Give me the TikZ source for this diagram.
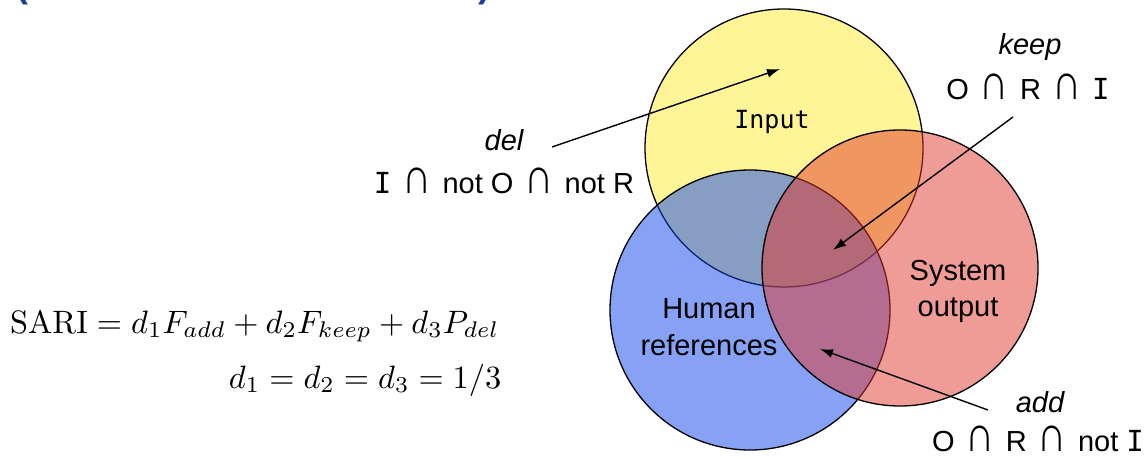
\documentclass[tikz,border=0pt]{standalone}
\usepackage[no-math]{fontspec}
\usepackage{graphicx}
\setmainfont{Liberation Sans}
\newfontfamily\monof{DejaVu Sans Mono}
\usetikzlibrary{arrows.meta}
\definecolor{yelF}{RGB}{255,245,150}
\definecolor{bluF}{RGB}{16,70,236}
\definecolor{redF}{RGB}{225,57,45}
\definecolor{titleblue}{RGB}{30,60,150}
\newcommand{\ic}{\hspace{11pt}\scalebox{1.4}[1.75]{∩}\hspace{11pt}}
\begin{document}
\begin{tikzpicture}[x=1pt,y=-1pt,
  setc/.style={circle, draw=black, line width=1.3pt, inner sep=0pt, outer sep=0pt, minimum size=#1},
  lbl/.style={font=\fontsize{29}{34}\selectfont, inner sep=0pt, anchor=base, text=black},
  itl/.style={lbl, font=\itshape\fontsize{29}{34}\selectfont},
  arr/.style={line width=1.4pt, -{Latex[length=13pt,width=9pt]}},
  mth/.style={scale=3.24, inner sep=0pt, anchor=base east}]
\useasboundingbox (0,0) rectangle (1146,457);
% title fragments (cut off at top)
\node[text=titleblue, font=\bfseries\fontsize{36}{40}\selectfont, anchor=south, inner sep=0pt] (tl) at (22,5) {(};
\node[text=titleblue, font=\bfseries\fontsize{36}{40}\selectfont, anchor=south, inner sep=0pt] (tr) at (484,5) {)};
% circles
\node[setc=278pt, fill=yelF] (inp) at (784,148) {};
\node[setc=280pt, fill=bluF, fill opacity=0.5] (hum) at (750,310) {};
\node[setc=276pt, fill=redF, fill opacity=0.5] (sys) at (900,268) {};
% circle labels
\node[lbl, font=\monof\fontsize{25}{30}\selectfont] (inpt) at (772,129) {Input};
\node[lbl] (hum1) at (709,318) {Human};
\node[lbl] (hum2) at (709,355) {references};
\node[lbl] (sys1) at (958,280) {System};
\node[lbl] (sys2) at (958,316) {output};
% region labels
\node[itl] (delt) at (504,151) {del};
\node[lbl] (delf) at (504,194) {{\monof I}\ic{}not O\ic{}not R};
\node[itl] (keept) at (1030,55) {keep};
\node[lbl] (keepf) at (1028,100) {O\ic{}R\ic{}{\monof I}};
\node[itl] (addt) at (1040,412) {add};
\node[lbl] (addf) at (1038,451) {O\ic{}R\ic{}not {\monof I}};
% arrows
\coordinate (delS) at (552,147);
\coordinate (delE) at (780,69);
\coordinate (keepS) at (1013,117);
\coordinate (keepE) at (833,250);
\coordinate (addS) at (988,410);
\coordinate (addE) at (820,349);
\draw[arr] (delS) -- (delE);
\draw[arr] (keepS) -- (keepE);
\draw[arr] (addS) -- (addE);
% formula
\node[mth] (f1) at (500,333) {$\mathrm{SARI} = d_1F_{add} + d_2F_{keep} + d_3P_{del}$};
\node[mth] (f2) at (502,388) {$d_1 = d_2 = d_3 = 1/3$};
\end{tikzpicture}
\end{document}
